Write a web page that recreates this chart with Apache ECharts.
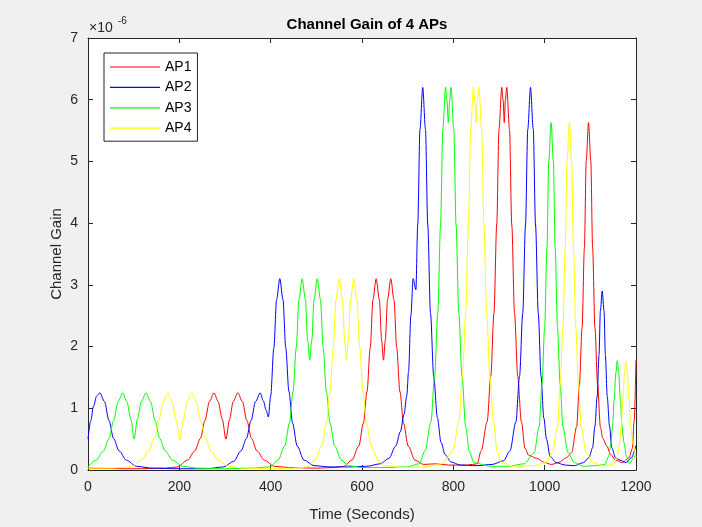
<!DOCTYPE html>
<html><head><meta charset="utf-8">
<script src="https://cdn.jsdelivr.net/npm/echarts@6/dist/echarts.min.js"></script>
<style>html,body{margin:0;padding:0;background:#f0f0f0}#c{width:702px;height:527px}</style>
</head><body><div id="c"></div>
<script>
// Axis ticks
const timeTicks = [0, 200, 400, 600, 800, 1000, 1200];
const gainTicks = [0, 1, 2, 3, 4, 5, 6, 7];
const seriesNames = ['AP1', 'AP2', 'AP3', 'AP4'];
const gainExponent = '-6';
// [time (s), channel gain in units of 1e-6]
const ap1 = [[0,0.03],[100,0.02],[170,0.03],[196,0.05],[218,0.16],[234,0.31],[246,0.51],[256,0.80],[266,1.11],[276,1.25],[285,1.11],[294,0.82],[302,0.50],[310,0.82],[318,1.11],[328,1.25],[338,1.11],[348,0.80],[358,0.51],[370,0.31],[386,0.16],[408,0.06],[440,0.04],[500,0.03],[540,0.04],[560,0.06],[578,0.16],[593,0.39],[603,0.76],[611,1.27],[618,1.98],[624,2.76],[631,3.10],[638,2.76],[643,2.10],[647,1.78],[651,2.10],[656,2.76],[663,3.10],[670,2.76],[676,1.98],[683,1.27],[691,0.76],[701,0.39],[716,0.16],[735,0.09],[760,0.10],[790,0.08],[830,0.08],[852,0.10],[861,0.31],[874,0.78],[882,1.52],[889,2.54],[895,3.97],[900,5.52],[906,6.20],[909,6.00],[911.5,5.63],[914,6.00],[917,6.20],[923,5.52],[928,3.97],[934,2.54],[941,1.52],[949,0.78],[957,0.35],[965,0.24],[982,0.19],[1000,0.12],[1015,0.09],[1030,0.12],[1048,0.20],[1059,0.28],[1070,0.70],[1076,1.38],[1082,2.31],[1087,3.60],[1091,5.01],[1096,5.63],[1101,5.01],[1105,3.60],[1110,2.31],[1116,1.38],[1122,0.70],[1127,0.52],[1135,0.40],[1145,0.25],[1155,0.16],[1170,0.12],[1185,0.20],[1192,0.35],[1196,0.80],[1200,1.78]];
const ap2 = [[0,0.50],[6,0.80],[12,1.03],[19,1.20],[26,1.25],[36,1.11],[46,0.80],[56,0.51],[68,0.31],[84,0.16],[106,0.06],[140,0.03],[200,0.02],[260,0.02],[297,0.05],[319,0.14],[335,0.31],[347,0.51],[357,0.80],[367,1.11],[377,1.25],[384,1.12],[390,0.97],[395,0.86],[400,1.20],[407,1.98],[413,2.76],[420,3.10],[427,2.76],[433,1.98],[440,1.27],[448,0.76],[458,0.39],[473,0.16],[495,0.07],[530,0.05],[570,0.05],[610,0.06],[640,0.10],[659,0.19],[674,0.39],[684,0.62],[692,0.90],[698,1.20],[702,1.60],[707,2.50],[712,3.10],[718,2.92],[722,3.97],[727,5.52],[733,6.20],[739,5.52],[744,3.97],[750,2.54],[757,1.52],[765,0.85],[773,0.45],[782,0.25],[795,0.13],[815,0.08],[850,0.07],[885,0.09],[910,0.15],[924,0.31],[937,0.78],[945,1.52],[952,2.54],[958,3.97],[963,5.52],[969,6.20],[975,5.52],[980,3.97],[986,2.54],[992,1.52],[998,0.85],[1004,0.50],[1012,0.22],[1025,0.12],[1045,0.08],[1065,0.07],[1085,0.12],[1097,0.20],[1105,0.36],[1110,0.71],[1115,1.19],[1119,1.86],[1122,2.58],[1126,2.90],[1130,2.58],[1133,1.86],[1137,1.19],[1142,0.71],[1147,0.36],[1155,0.20],[1165,0.16],[1178,0.12],[1190,0.20],[1200,0.40]];
const ap3 = [[0,0.05],[18,0.16],[34,0.31],[46,0.51],[56,0.80],[66,1.11],[76,1.25],[85,1.11],[94,0.82],[101,0.50],[108,0.82],[117,1.11],[127,1.25],[137,1.11],[147,0.80],[157,0.51],[169,0.31],[185,0.16],[207,0.06],[240,0.03],[300,0.02],[360,0.03],[398,0.05],[416,0.16],[431,0.39],[441,0.76],[449,1.27],[456,1.98],[462,2.76],[469,3.10],[476,2.76],[481,2.10],[485.5,1.78],[490,2.10],[495,2.76],[502,3.10],[509,2.76],[515,1.98],[522,1.27],[530,0.76],[540,0.39],[555,0.16],[570,0.07],[600,0.04],[650,0.04],[700,0.05],[725,0.10],[738,0.31],[751,0.78],[759,1.52],[766,2.54],[772,3.97],[777,5.52],[783,6.20],[786,6.00],[789,5.63],[792,6.00],[795,6.20],[801,5.52],[806,3.97],[812,2.54],[819,1.52],[827,0.70],[835,0.30],[845,0.12],[880,0.06],[920,0.06],[955,0.10],[977,0.28],[988,0.70],[994,1.38],[1000,2.31],[1005,3.60],[1009,5.01],[1014,5.63],[1019,5.01],[1023,3.60],[1028,2.31],[1034,1.38],[1040,0.70],[1051,0.28],[1065,0.12],[1085,0.06],[1110,0.07],[1132,0.09],[1140,0.22],[1145,0.43],[1149,0.73],[1152,1.13],[1156,1.58],[1159,1.77],[1162,1.58],[1166,1.13],[1169,0.73],[1174,0.43],[1179,0.22],[1186,0.10],[1195,0.20],[1200,0.27]];
const ap4 = [[0,0.03],[50,0.03],[95,0.05],[117,0.16],[133,0.31],[145,0.51],[155,0.80],[165,1.11],[175,1.25],[184,1.11],[193,0.82],[201,0.49],[209,0.82],[217,1.11],[227,1.25],[237,1.11],[247,0.80],[257,0.51],[269,0.31],[285,0.16],[307,0.06],[340,0.03],[400,0.02],[450,0.03],[479,0.05],[497,0.16],[512,0.39],[522,0.76],[530,1.27],[537,1.98],[543,2.76],[550,3.10],[557,2.76],[562,2.10],[566,1.78],[570,2.10],[575,2.76],[582,3.10],[589,2.76],[595,1.98],[602,1.27],[610,0.76],[620,0.39],[635,0.16],[650,0.07],[690,0.04],[740,0.05],[775,0.10],[799,0.31],[812,0.78],[820,1.52],[827,2.54],[833,3.97],[838,5.52],[844,6.20],[847,6.00],[850,5.63],[853,6.00],[856,6.20],[862,5.52],[867,3.97],[873,2.54],[880,1.52],[888,0.78],[896,0.30],[906,0.12],[930,0.06],[975,0.07],[1003,0.12],[1017,0.28],[1028,0.70],[1034,1.38],[1040,2.31],[1045,3.60],[1049,5.01],[1054,5.63],[1059,5.01],[1063,3.60],[1068,2.31],[1074,1.38],[1080,0.70],[1091,0.28],[1105,0.12],[1130,0.07],[1151,0.09],[1159,0.22],[1164,0.43],[1168,0.73],[1171,1.13],[1175,1.58],[1178,1.76],[1181,1.58],[1185,1.13],[1188,0.73],[1193,0.43],[1200,0.20]];

const colors = ['#ff0000', '#0000ff', '#00ff00', '#ffff00'];
const FONT = 'Liberation Sans, Arial, Helvetica, sans-serif';
const AX = '#262626';
const chart = echarts.init(document.getElementById('c'), null, {renderer: 'canvas'});
const tickInt = timeTicks[1] - timeTicks[0];
const gInt = gainTicks[1] - gainTicks[0];
const xBase = {type: 'value', min: timeTicks[0], max: timeTicks[timeTicks.length - 1], interval: tickInt,
  axisLine: {show: true, onZero: false, lineStyle: {color: AX, width: 1}},
  axisTick: {show: true, inside: true, length: 5, lineStyle: {color: AX}},
  splitLine: {show: false}};
const yBase = {type: 'value', min: gainTicks[0], max: gainTicks[gainTicks.length - 1], interval: gInt,
  axisLine: {show: true, onZero: false, lineStyle: {color: AX, width: 1}},
  axisTick: {show: true, inside: true, length: 5, lineStyle: {color: AX}},
  splitLine: {show: false}};
const data = [ap1, ap2, ap3, ap4];
chart.setOption({
  backgroundColor: '#f0f0f0',
  animation: false,
  title: {text: 'Channel Gain of 4 APs', left: 362, top: 12, textAlign: 'center',
    textStyle: {fontFamily: FONT, fontSize: 15, fontWeight: 'bold', color: '#000'}},
  grid: {left: 88, right: 66, top: 38, bottom: 57, show: true, backgroundColor: '#ffffff', borderColor: AX, borderWidth: 0},
  legend: {orient: 'vertical', left: 104, top: 53, data: seriesNames,
    icon: 'path://M0,0 L50,0 L50,1.2 L0,1.2 Z',
    itemWidth: 50, itemHeight: 14, itemGap: 6.4, padding: [7, 6, 6, 6],
    backgroundColor: '#ffffff', borderColor: AX, borderWidth: 1,
    textStyle: {fontFamily: FONT, fontSize: 14, color: '#000'}},
  xAxis: [
    Object.assign({}, xBase, {position: 'bottom', name: 'Time (Seconds)', nameLocation: 'middle', nameGap: 37,
      nameTextStyle: {fontFamily: FONT, fontSize: 15, color: AX},
      axisLabel: {show: true, margin: 10, fontFamily: FONT, fontSize: 14, color: AX, formatter: v => String(v)}}),
    Object.assign({}, xBase, {position: 'top', axisLabel: {show: false}})
  ],
  yAxis: [
    Object.assign({}, yBase, {position: 'left', name: 'Channel Gain', nameLocation: 'middle', nameGap: 24,
      nameMoveOverlap: false,
      nameTextStyle: {fontFamily: FONT, fontSize: 15, color: AX},
      axisLabel: {show: true, margin: 10, fontFamily: FONT, fontSize: 14, color: AX, formatter: v => String(v)}}),
    Object.assign({}, yBase, {position: 'right', axisLabel: {show: false}})
  ],
  graphic: [
    {type: 'text', left: 89, top: 21, style: {text: '×10', fontFamily: FONT, fontSize: 14, fill: AX}},
    {type: 'text', left: 118, top: 16, style: {text: gainExponent, fontFamily: FONT, fontSize: 10, fill: AX}}
  ],
  series: seriesNames.map((n, i) => ({
    name: n, type: 'line', data: data[i], xAxisIndex: 0, yAxisIndex: 0,
    symbol: 'none', smooth: 0.3, smoothMonotone: 'x',
    lineStyle: {color: colors[i], width: 1}, itemStyle: {color: colors[i]}
  }))
});
</script></body></html>
